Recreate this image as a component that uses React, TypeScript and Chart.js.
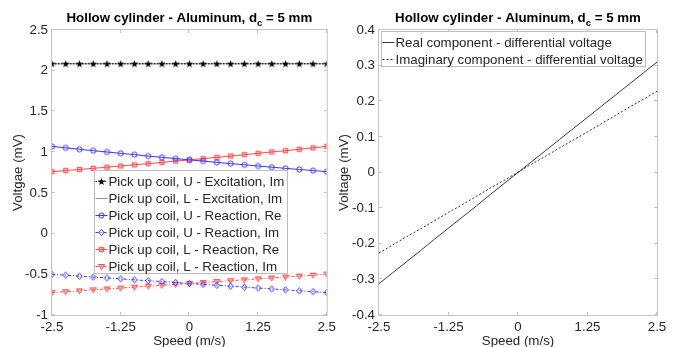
import React, { useEffect, useRef } from 'react';
import { Chart, registerables } from 'chart.js';
Chart.register(...registerables);

const FONT = "'Liberation Sans', Arial, Helvetica, sans-serif";
const TEXT = '#262626';
const AXIS = '#c4c4c4';

// ---- data ----
const speed = [-2.5, -2.25, -2, -1.75, -1.5, -1.25, -1, -0.75, -0.5, -0.25, 0, 0.25, 0.5, 0.75, 1, 1.25, 1.5, 1.75, 2, 2.25, 2.5];
const uExcitationIm = [2.085, 2.085, 2.085, 2.085, 2.085, 2.085, 2.085, 2.085, 2.085, 2.085, 2.085, 2.085, 2.085, 2.085, 2.085, 2.085, 2.085, 2.085, 2.085, 2.085, 2.085];
const lExcitationIm = [2.085, 2.085, 2.085, 2.085, 2.085, 2.085, 2.085, 2.085, 2.085, 2.085, 2.085, 2.085, 2.085, 2.085, 2.085, 2.085, 2.085, 2.085, 2.085, 2.085, 2.085];
const uReactionRe = [1.07, 1.053, 1.035, 1.018, 1.002, 0.985, 0.969, 0.952, 0.936, 0.921, 0.905, 0.89, 0.874, 0.859, 0.845, 0.83, 0.815, 0.801, 0.787, 0.774, 0.76];
const uReactionIm = [-0.5, -0.511, -0.523, -0.534, -0.545, -0.556, -0.568, -0.579, -0.59, -0.601, -0.613, -0.624, -0.635, -0.646, -0.658, -0.669, -0.68, -0.691, -0.703, -0.714, -0.725];
const lReactionRe = [0.76, 0.774, 0.787, 0.801, 0.815, 0.83, 0.845, 0.859, 0.874, 0.89, 0.905, 0.921, 0.936, 0.952, 0.969, 0.985, 1.002, 1.018, 1.035, 1.053, 1.07];
const lReactionIm = [-0.725, -0.714, -0.703, -0.691, -0.68, -0.669, -0.658, -0.646, -0.635, -0.624, -0.613, -0.601, -0.59, -0.579, -0.568, -0.556, -0.545, -0.534, -0.523, -0.511, -0.498];
const realDiff = [-0.312, -0.281, -0.25, -0.219, -0.187, -0.156, -0.125, -0.094, -0.062, -0.031, 0, 0.031, 0.062, 0.093, 0.124, 0.155, 0.186, 0.217, 0.248, 0.279, 0.31];
const imagDiff = [-0.226, -0.203, -0.18, -0.158, -0.135, -0.112, -0.09, -0.067, -0.044, -0.022, 0.001, 0.024, 0.046, 0.069, 0.092, 0.114, 0.137, 0.16, 0.183, 0.205, 0.228];

const xTicks = [-2.5, -1.25, 0, 1.25, 2.5];
const leftYTicks = [-1, -0.5, 0, 0.5, 1, 1.5, 2, 2.5];
const rightYTicks = [-0.4, -0.3, -0.2, -0.1, 0, 0.1, 0.2, 0.3, 0.4];

const BLUE = 'rgb(55,55,255)';
const RED = 'rgb(255,75,75)';

function makeMarker(kind: string, stroke: string, fill: string) {
  const s = 11;
  const c = document.createElement('canvas');
  c.width = s; c.height = s;
  const ctx = c.getContext('2d')!;
  const m = s / 2;
  ctx.lineWidth = 1;
  ctx.strokeStyle = stroke;
  ctx.fillStyle = fill;
  ctx.beginPath();
  if (kind === 'circle') {
    ctx.arc(m, m, 2.6, 0, Math.PI * 2);
  } else if (kind === 'diamond') {
    ctx.moveTo(m, m - 3.2); ctx.lineTo(m + 2.6, m); ctx.lineTo(m, m + 3.2); ctx.lineTo(m - 2.6, m); ctx.closePath();
  } else if (kind === 'square') {
    ctx.rect(m - 2.2, m - 2.2, 4.4, 4.4);
  } else if (kind === 'tridown') {
    ctx.moveTo(m - 3, m - 2); ctx.lineTo(m + 3, m - 2); ctx.lineTo(m, m + 3); ctx.closePath();
  } else if (kind === 'star') {
    for (let i = 0; i < 10; i++) {
      const r = i % 2 === 0 ? 4 : 1.6;
      const a = -Math.PI / 2 + (i * Math.PI) / 5;
      const px = m + r * Math.cos(a), py = m + 0.3 + r * Math.sin(a);
      if (i === 0) ctx.moveTo(px, py); else ctx.lineTo(px, py);
    }
    ctx.closePath();
  }
  if (fill !== 'none') ctx.fill();
  if (kind !== 'star') ctx.stroke();
  return c;
}

function pts(ys: number[]) {
  return speed.map((x, i) => ({ x, y: ys[i] }));
}

function titlePlugin(main: string, sub: string, rest: string) {
  return {
    id: 'customTitle',
    afterDraw(chart: any) {
      const { ctx, chartArea } = chart;
      ctx.save();
      const big = `bold 13.3px ${FONT}`;
      const small = `bold 9.5px ${FONT}`;
      ctx.font = big; const w1 = ctx.measureText(main).width; const w3 = ctx.measureText(rest).width;
      ctx.font = small; const w2 = ctx.measureText(sub).width;
      const total = w1 + w2 + w3;
      let x = (chartArea.left + chartArea.right) / 2 - total / 2;
      const y = 21.5;
      ctx.fillStyle = '#000';
      ctx.textBaseline = 'alphabetic';
      ctx.textAlign = 'left';
      ctx.font = big; ctx.fillText(main, x, y); x += w1;
      ctx.font = small; ctx.fillText(sub, x, y + 4); x += w2;
      ctx.font = big; ctx.fillText(rest, x, y);
      ctx.restore();
    },
  };
}

const framePlugin = {
  id: 'frame',
  afterDatasetsDraw(chart: any) {
    const { ctx, chartArea: a, scales } = chart;
    ctx.save();
    ctx.strokeStyle = AXIS;
    ctx.lineWidth = 1;
    ctx.strokeRect(a.left - 0.5, a.top - 0.5, a.right - a.left + 1, a.bottom - a.top + 1);
    ctx.beginPath();
    scales.x.ticks.forEach((t: any) => {
      const px = Math.round(scales.x.getPixelForValue(t.value)) - 0.5;
      ctx.moveTo(px, a.bottom); ctx.lineTo(px, a.bottom - 3);
      ctx.moveTo(px, a.top); ctx.lineTo(px, a.top + 3);
    });
    scales.y.ticks.forEach((t: any) => {
      const py = Math.round(scales.y.getPixelForValue(t.value)) - 0.5;
      ctx.moveTo(a.left, py); ctx.lineTo(a.left + 3, py);
      ctx.moveTo(a.right, py); ctx.lineTo(a.right - 3, py);
    });
    ctx.stroke();
    ctx.restore();
  },
};

function legendPlugin(offX: number, offY: number) {
  return {
    id: 'boxLegend',
    afterDraw(chart: any) {
      const { ctx, chartArea: a } = chart;
      const ds = chart.data.datasets;
      ctx.save();
      ctx.font = `13.3px ${FONT}`;
      let maxW = 0;
      ds.forEach((d: any) => { maxW = Math.max(maxW, ctx.measureText(d.label).width); });
      const x0 = Math.round(a.left + offX) + 0.5;
      const y0 = Math.round(a.top + offY) + 0.5;
      const w = Math.round(14 + maxW + 3);
      const h = Math.round(10.5 + 17 * (ds.length - 1) + 7);
      ctx.fillStyle = '#fff';
      ctx.fillRect(x0, y0, w, h);
      ctx.strokeStyle = '#bdbdbd';
      ctx.lineWidth = 1;
      ctx.strokeRect(x0, y0, w, h);
      ds.forEach((d: any, i: number) => {
        const cy = Math.round(y0 + 10.5 + 17 * i) + 0.5;
        ctx.save();
        ctx.strokeStyle = d.borderColor;
        ctx.lineWidth = 1;
        ctx.setLineDash(d.borderDash || []);
        ctx.beginPath();
        ctx.moveTo(x0 + 1, cy); ctx.lineTo(x0 + 13, cy);
        ctx.stroke();
        ctx.restore();
        if (d.pointStyle && typeof d.pointStyle !== 'string') {
          const img = d.pointStyle as HTMLCanvasElement;
          ctx.drawImage(img, Math.round(x0 + 6.5 - img.width / 2), Math.round(cy - img.height / 2));
        }
        ctx.fillStyle = TEXT;
        ctx.textBaseline = 'middle';
        ctx.textAlign = 'left';
        ctx.fillText(d.label, x0 + 14, cy + 0.5);
      });
      ctx.restore();
    },
  };
}

function fmt(v: number) {
  return String(parseFloat(Number(v).toFixed(4)));
}

function axisOptions(ticks: number[], min: number, max: number, fit: (s: any) => void, title: string, titlePad: any, tickPad: number) {
  return {
    type: 'linear' as const,
    min, max,
    afterBuildTicks: (s: any) => { s.ticks = ticks.map((v) => ({ value: v })); },
    afterFit: fit,
    grid: { display: false, drawTicks: false },
    border: { display: false },
    ticks: { padding: tickPad, color: TEXT, font: { family: FONT, size: 13.3 }, maxRotation: 0, autoSkip: false, callback: (v: any) => fmt(v) },
    title: { display: true, text: title, color: TEXT, font: { family: FONT, size: 13.3 }, padding: titlePad },
  };
}

export default function App() {
  const leftRef = useRef<HTMLCanvasElement>(null);
  const rightRef = useRef<HTMLCanvasElement>(null);

  useEffect(() => {
    const star = makeMarker('star', '#000', '#000');
    const circ = makeMarker('circle', BLUE, 'none');
    const diam = makeMarker('diamond', BLUE, 'none');
    const sq = makeMarker('square', RED, 'rgba(255,75,75,0.35)');
    const tri = makeMarker('tridown', RED, 'rgba(255,75,75,0.35)');

    const left = new Chart(leftRef.current!, {
      type: 'line',
      data: {
        datasets: [
          { label: 'Pick up coil, U - Excitation, Im', data: pts(uExcitationIm), borderColor: '#000', borderWidth: 1, borderDash: [1.5, 1.5], pointStyle: star as any, pointRadius: 4 },
          { label: 'Pick up coil, L - Excitation, Im', data: pts(lExcitationIm), borderColor: '#8c8c8c', borderWidth: 1, pointRadius: 0 },
          { label: 'Pick up coil, U - Reaction, Re', data: pts(uReactionRe), borderColor: BLUE, borderWidth: 1, pointStyle: circ as any, pointRadius: 3 },
          { label: 'Pick up coil, U - Reaction, Im', data: pts(uReactionIm), borderColor: BLUE, borderWidth: 1, borderDash: [3, 2, 1, 2], pointStyle: diam as any, pointRadius: 3 },
          { label: 'Pick up coil, L - Reaction, Re', data: pts(lReactionRe), borderColor: RED, borderWidth: 1, pointStyle: sq as any, pointRadius: 3 },
          { label: 'Pick up coil, L - Reaction, Im', data: pts(lReactionIm), borderColor: RED, borderWidth: 1, borderDash: [3, 2, 1, 2], pointStyle: tri as any, pointRadius: 3 },
        ],
      },
      options: {
        animation: false,
        responsive: false,
        devicePixelRatio: 1,
        layout: { padding: { top: 30, right: 11, left: 0, bottom: 0 } },
        plugins: { legend: { display: false }, title: { display: false }, tooltip: { enabled: false } },
        scales: {
          x: axisOptions(xTicks, -2.5, 2.5, (s: any) => { s.height = 37; }, 'Speed (m/s)', { top: 0, bottom: 3 }, 4),
          y: axisOptions(leftYTicks, -1, 2.5, (s: any) => { s.width = 52; }, 'Voltgae (mV)', { top: 10, bottom: 0 }, 4),
        },
      } as any,
      plugins: [framePlugin, legendPlugin(42, 139.5), titlePlugin('Hollow cylinder - Aluminum, d', 'c', ' = 5 mm')],
    });

    const right = new Chart(rightRef.current!, {
      type: 'line',
      data: {
        datasets: [
          { label: 'Real component - differential voltage', data: pts(realDiff), borderColor: '#3a3a3a', borderWidth: 1, pointRadius: 0 },
          { label: 'Imaginary component - differential voltage', data: pts(imagDiff), borderColor: '#2a2a2a', borderWidth: 1, borderDash: [2, 2], pointRadius: 0 },
        ],
      },
      options: {
        animation: false,
        responsive: false,
        devicePixelRatio: 1,
        layout: { padding: { top: 30, right: 21, left: 0, bottom: 0 } },
        plugins: { legend: { display: false }, title: { display: false }, tooltip: { enabled: false } },
        scales: {
          x: axisOptions(xTicks, -2.5, 2.5, (s: any) => { s.height = 37; }, 'Speed (m/s)', { top: 0, bottom: 3 }, 4),
          y: axisOptions(rightYTicks, -0.4, 0.4, (s: any) => { s.width = 47; }, 'Voltage (mV)', { top: 4, bottom: 0 }, 4),
        },
      } as any,
      plugins: [framePlugin, legendPlugin(1.5, 1), titlePlugin('Hollow cylinder - Aluminum, d', 'c', ' = 5 mm')],
    });

    return () => { left.destroy(); right.destroy(); };
  }, []);

  return (
    <div style={{ position: 'fixed', left: 0, top: 0, width: 678, height: 347, overflow: 'hidden', background: '#fff' }}>
      <canvas ref={leftRef} width={340} height={352} style={{ position: 'absolute', left: 0, top: 0, width: 340, height: 352 }} />
      <canvas ref={rightRef} width={346} height={352} style={{ position: 'absolute', left: 332, top: 0, width: 346, height: 352 }} />
    </div>
  );
}
